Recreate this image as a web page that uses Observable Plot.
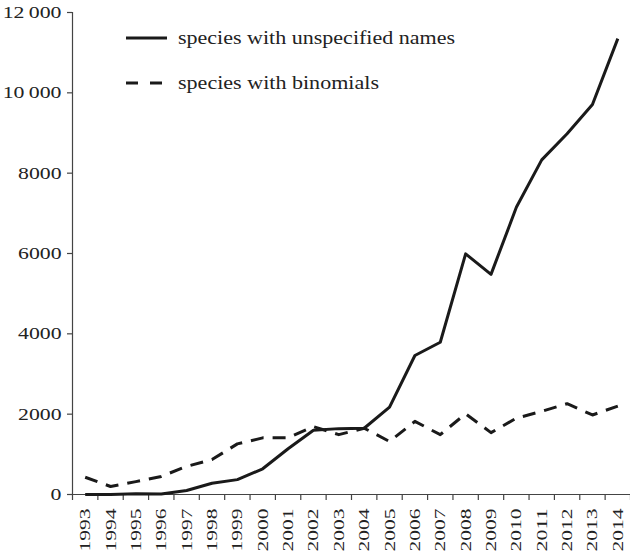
<!DOCTYPE html>
<html>
<head>
<meta charset="utf-8">
<script src="https://cdn.jsdelivr.net/npm/d3@7"></script>
<script src="https://cdn.jsdelivr.net/npm/@observablehq/plot@0.6"></script>
<style>
  html, body { margin: 0; padding: 0; background: #fff; }
  #wrap { position: relative; width: 630px; height: 553px; overflow: hidden; }
  #legend { position: absolute; left: 0; top: 0; pointer-events: none; }
</style>
</head>
<body>
<div id="wrap"></div>
<script>
const years = [1993, 1994, 1995, 1996, 1997, 1998, 1999, 2000, 2001, 2002, 2003,
               2004, 2005, 2006, 2007, 2008, 2009, 2010, 2011, 2012, 2013, 2014];
const unspecifiedNames = [0, 0, 20, 10, 100, 280, 370, 640, 1140, 1600, 1640,
                          1650, 2175, 3460, 3790, 5990, 5480, 7150, 8330, 8980, 9710, 11350];
const binomials = [430, 200, 320, 450, 700, 870, 1260, 1410, 1410, 1690, 1490,
                   1650, 1320, 1820, 1490, 2010, 1540, 1900, 2070, 2260, 1980, 2200];
const yTicks = [0, 2000, 4000, 6000, 8000, 10000, 12000];
const seriesLabels = ["species with unspecified names", "species with binomials"];

const rows = years.flatMap((yr, i) => [
  {year: yr, value: unspecifiedNames[i], series: seriesLabels[0]},
  {year: yr, value: binomials[i], series: seriesLabels[1]}
]);
const boundaries = [years[0] - 0.5, ...years.map(y => y + 0.5)];
const fmt = d => d >= 10000 ? d3.format(",")(d).replace(",", "\u2009") : String(d);
const ink = "#1a1a1a";

const chart = Plot.plot({
  width: 630,
  height: 553,
  marginLeft: 72,
  marginRight: 0,
  marginTop: 12,
  marginBottom: 59,
  style: {fontFamily: "'Liberation Serif', 'Times New Roman', serif", color: "#333", background: "#fff"},
  x: {type: "linear", domain: [boundaries[0], boundaries[boundaries.length - 1]]},
  y: {domain: [0, 12000]},
  marks: [
    Plot.frame({anchor: "left", stroke: "#444", strokeWidth: 1.2}),
    Plot.frame({anchor: "bottom", stroke: "#444", strokeWidth: 1.2}),
    Plot.axisY({ticks: yTicks, tickSize: 5, tickPadding: 6, tickFormat: fmt, label: null,
                fontSize: 17, fill: "#222", stroke: "#444", strokeWidth: 1.2}),
    Plot.axisX({ticks: boundaries, tickSize: 6, tickFormat: () => "", label: null,
                stroke: "#444", strokeWidth: 1.2}),
    Plot.text(years, {x: d => d, frameAnchor: "bottom", dy: 14, rotate: -90,
                      textAnchor: "end", lineAnchor: "middle", text: d => String(d),
                      fontSize: 15.5, fill: "#222", className: "xlab"}),
    Plot.line(rows.filter(d => d.series === seriesLabels[1]),
              {x: "year", y: "value", stroke: ink, strokeWidth: 3,
               strokeDasharray: "13,9", strokeLinecap: "butt", strokeLinejoin: "round"}),
    Plot.line(rows.filter(d => d.series === seriesLabels[0]),
              {x: "year", y: "value", stroke: ink, strokeWidth: 3,
               strokeLinecap: "butt", strokeLinejoin: "round"})
  ]
});

const wrap = document.getElementById("wrap");
wrap.appendChild(chart);

// stretch glyphs to mimic the reference's wide letterforms
chart.querySelectorAll("g[aria-label='y-axis tick label'] text").forEach(t => {
  const L = t.getComputedTextLength();
  t.setAttribute("textLength", (L * 1.28).toFixed(1));
  t.setAttribute("lengthAdjust", "spacingAndGlyphs");
});
chart.querySelectorAll(".xlab text").forEach(t => {
  t.setAttribute("textLength", "43");
  t.setAttribute("lengthAdjust", "spacingAndGlyphs");
});

// legend overlay
const ns = "http://www.w3.org/2000/svg";
const lg = document.createElementNS(ns, "svg");
lg.setAttribute("id", "legend");
lg.setAttribute("width", 630);
lg.setAttribute("height", 120);
const legendItems = [
  {label: seriesLabels[0], dash: null, y: 38, len: 277},
  {label: seriesLabels[1], dash: "12,12", y: 83, len: 201}
];
legendItems.forEach(it => {
  const ln = document.createElementNS(ns, "line");
  ln.setAttribute("x1", 126); ln.setAttribute("x2", 167);
  ln.setAttribute("y1", it.y); ln.setAttribute("y2", it.y);
  ln.setAttribute("stroke", ink); ln.setAttribute("stroke-width", 3);
  if (it.dash) ln.setAttribute("stroke-dasharray", it.dash);
  lg.appendChild(ln);
  const tx = document.createElementNS(ns, "text");
  tx.setAttribute("x", 178); tx.setAttribute("y", it.y + 5.5);
  tx.setAttribute("font-family", "'Liberation Serif', 'Times New Roman', serif");
  tx.setAttribute("font-size", 18.5);
  tx.setAttribute("fill", "#222");
  tx.setAttribute("textLength", it.len);
  tx.setAttribute("lengthAdjust", "spacingAndGlyphs");
  tx.textContent = it.label;
  lg.appendChild(tx);
});
wrap.appendChild(lg);
</script>
</body>
</html>
